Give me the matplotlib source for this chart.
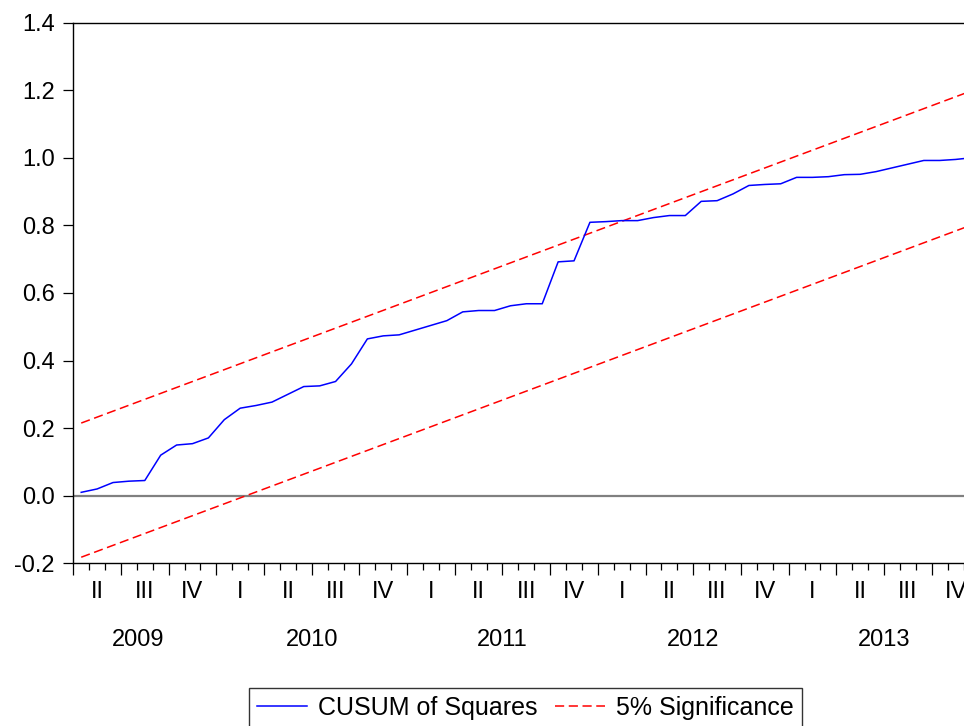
import matplotlib
matplotlib.use('Agg')
import matplotlib.pyplot as plt

plt.rcParams['font.family'] = ['Liberation Sans', 'DejaVu Sans']

# monthly observations, 2009M04 .. 2013M12
cusum_sq = [0.010, 0.020, 0.039, 0.043, 0.045, 0.120, 0.150, 0.154, 0.171,
            0.225, 0.259, 0.267, 0.277, 0.300, 0.323, 0.325, 0.338, 0.390,
            0.464, 0.473, 0.476, 0.490, 0.504, 0.518, 0.544, 0.548, 0.548,
            0.562, 0.568, 0.568, 0.692, 0.695, 0.809, 0.811, 0.814, 0.814,
            0.823, 0.829, 0.829, 0.871, 0.873, 0.893, 0.918, 0.921, 0.923,
            0.942, 0.942, 0.944, 0.950, 0.951, 0.959, 0.970, 0.981, 0.992,
            0.992, 0.995, 1.000]
# 5% significance bounds at first and last observation
bound_x = [0, 56]
upper_bound = [0.215, 1.198]
lower_bound = [-0.182, 0.801]

quarter_labels = ['II', 'III', 'IV'] + ['I', 'II', 'III', 'IV'] * 4
year_labels = ['2009', '2010', '2011', '2012', '2013']
year_pos = [3.6, 14.5, 26.5, 38.5, 50.5]

FS = 17

fig = plt.figure(figsize=(9.64, 7.26), dpi=100)
ax = fig.add_axes([0.076, 0.2241, 0.940, 0.7448])

x = list(range(len(cusum_sq)))
ax.axhline(0, color='#808080', lw=1.6, zorder=1)
l1, = ax.plot(x, cusum_sq, color='#0000FF', lw=1.1, zorder=3)
l2, = ax.plot(bound_x, upper_bound, color='#FF0000', lw=1.1, ls=(0, (6, 3)), zorder=2)
ax.plot(bound_x, lower_bound, color='#FF0000', lw=1.1, ls=(0, (6, 3)), zorder=2)

ax.set_xlim(-0.5, len(cusum_sq) - 0.5)
ax.set_ylim(-0.2, 1.4)
ax.set_yticks([-0.2, 0.0, 0.2, 0.4, 0.6, 0.8, 1.0, 1.2, 1.4])
ax.set_yticklabels(['-0.2', '0.0', '0.2', '0.4', '0.6', '0.8', '1.0', '1.2', '1.4'])
ax.tick_params(axis='y', direction='out', length=7.5, width=0.9, labelsize=FS, pad=6)

ax.set_xticks([-0.5 + 3 * k for k in range(20)])
ax.set_xticks([-0.5 + k for k in range(58)], minor=True)
ax.tick_params(axis='x', which='major', direction='out', length=8.6, width=0.9, labelbottom=False)
ax.tick_params(axis='x', which='minor', direction='out', length=5, width=0.9)

for k, lab in enumerate(quarter_labels):
    ax.annotate(lab, xy=(1 + 3 * k, 0), xycoords=('data', 'axes fraction'),
                xytext=(0, -21), textcoords='offset points',
                ha='center', va='center', fontsize=FS, annotation_clip=False)
for pos, lab in zip(year_pos, year_labels):
    ax.annotate(lab, xy=(pos, 0), xycoords=('data', 'axes fraction'),
                xytext=(0, -55.5), textcoords='offset points',
                ha='center', va='center', fontsize=FS, annotation_clip=False)

for s in ['left', 'bottom', 'top']:
    ax.spines[s].set_linewidth(1.0)
ax.spines['right'].set_visible(False)

leg = fig.legend([l1, l2], ['CUSUM of Squares', '5% Significance'],
                 loc='upper center', bbox_to_anchor=(0.545, 0.0523),
                 borderaxespad=0, ncol=2, fontsize=18, frameon=True,
                 fancybox=False, edgecolor='black', handlelength=2.0,
                 handletextpad=0.45, columnspacing=0.7, borderpad=0.3)
leg.get_frame().set_linewidth(1.0)

fig.savefig('out.png', dpi=100)
